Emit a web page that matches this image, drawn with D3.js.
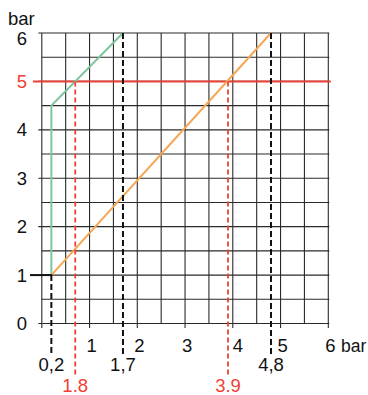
<!DOCTYPE html>
<html>
<head>
<meta charset="utf-8">
<script src="https://cdn.jsdelivr.net/npm/d3@7"></script>
<style>
  body { margin: 0; background: #fff; }
  text { font-family: "Liberation Sans", Arial, sans-serif; font-size: 18.5px; }
</style>
</head>
<body>
<script>
(function () {
  var xTicks = [1, 2, 3, 4, 5, 6];
  var yTicks = [0, 1, 2, 3, 4, 5, 6];
  var level = 5;

  var green = [
    { x: 0.2, y: 1 },
    { x: 0.2, y: 4.5 },
    { x: 1.7, y: 6 }
  ];
  var orange = [
    { x: 0.2, y: 1 },
    { x: 4.8, y: 6 }
  ];

  var blackMarks = [
    { x: 0.2, top: 1, label: "0,2" },
    { x: 1.7, top: 6, label: "1,7" },
    { x: 4.8, top: 6, label: "4,8" }
  ];
  var redMarks = [
    { x: 0.7, label: "1.8" },
    { x: 3.9, label: "3.9" }
  ];

  var W = 368, H = 395;
  var x = d3.scaleLinear().domain([0, 6]).range([41.8, 328.3]);
  var y = d3.scaleLinear().domain([0, 6]).range([323.5, 33]);

  var svg = d3.select("body")
    .append("svg")
    .attr("width", W)
    .attr("height", H);

  var grid = svg.append("g")
    .style("stroke", "#2a2a2a")
    .style("stroke-width", 1.1);

  var halves = x.ticks(12);

  // vertical grid, integer lines run a bit below the frame
  grid.selectAll("line.v")
    .data(halves)
  .enter()
    .append("line")
    .attr("x1", function (d) { return x(d); })
    .attr("x2", function (d) { return x(d); })
    .attr("y1", y(6))
    .attr("y2", function (d) { return d % 1 === 0 ? y(0) + 4.5 : y(0); });

  grid.selectAll("line.h")
    .data(y.ticks(12))
  .enter()
    .append("line")
    .attr("y1", function (d) { return y(d); })
    .attr("y2", function (d) { return y(d); })
    .attr("x1", function (d) { return d % 1 === 0 ? x(0) - 3.5 : x(0); })
    .attr("x2", x(6) + 1);

  // red level line
  svg.append("line")
    .attr("x1", 33)
    .attr("x2", x(6) + 2.5)
    .attr("y1", y(level))
    .attr("y2", y(level))
    .style("stroke", "#ee4135")
    .style("stroke-width", 2);

  var line = d3.line()
    .x(function (d) { return x(d.x); })
    .y(function (d) { return y(d.y); });

  svg.append("path")
    .datum(green)
    .attr("d", line)
    .style("fill", "none")
    .style("stroke", "#7cc59c")
    .style("stroke-width", 2);

  svg.append("path")
    .datum(orange)
    .attr("d", line)
    .style("fill", "none")
    .style("stroke", "#f6a655")
    .style("stroke-width", 2);

  // black marker at y = 1
  svg.append("line")
    .attr("x1", 30)
    .attr("x2", x(0.2) + 1)
    .attr("y1", y(1))
    .attr("y2", y(1))
    .style("stroke", "#111")
    .style("stroke-width", 2);

  svg.selectAll("line.bm")
    .data(blackMarks)
  .enter()
    .append("line")
    .attr("x1", function (d) { return x(d.x); })
    .attr("x2", function (d) { return x(d.x); })
    .attr("y1", function (d) { return y(d.top); })
    .attr("y2", 355)
    .style("stroke", "#111")
    .style("stroke-width", 2)
    .style("stroke-dasharray", "6,3");

  svg.selectAll("line.rm")
    .data(redMarks)
  .enter()
    .append("line")
    .attr("x1", function (d) { return x(d.x); })
    .attr("x2", function (d) { return x(d.x); })
    .attr("y1", y(level))
    .attr("y2", 376)
    .style("stroke", "#ee4135")
    .style("stroke-width", 1.8)
    .style("stroke-dasharray", "5,3");

  // labels
  svg.selectAll("text.yl")
    .data(yTicks)
  .enter()
    .append("text")
    .attr("x", 27)
    .attr("y", function (d) { return y(d) + (d === 6 ? 12 : 6.5); })
    .attr("text-anchor", "end")
    .style("fill", function (d) { return d === level ? "#ee4135" : "#111"; })
    .text(function (d) { return d; });

  svg.selectAll("text.xl")
    .data(xTicks)
  .enter()
    .append("text")
    .attr("x", function (d) { return x(d) + (d === 4 ? 5 : 2); })
    .attr("y", 352)
    .attr("text-anchor", "middle")
    .style("fill", "#111")
    .text(function (d) { return d; });

  svg.append("text")
    .attr("x", 8)
    .attr("y", 25)
    .style("fill", "#111")
    .text("bar");

  svg.append("text")
    .attr("x", 341)
    .attr("y", 352)
    .style("font-size", "17.5px")
    .style("fill", "#111")
    .text("bar");

  svg.selectAll("text.bl")
    .data(blackMarks)
  .enter()
    .append("text")
    .attr("x", function (d) { return x(d.x); })
    .attr("y", 371)
    .attr("text-anchor", "middle")
    .style("fill", "#111")
    .text(function (d) { return d.label; });

  svg.selectAll("text.rl")
    .data(redMarks)
  .enter()
    .append("text")
    .attr("x", function (d) { return x(d.x); })
    .attr("y", 392)
    .attr("text-anchor", "middle")
    .style("fill", "#ee4135")
    .text(function (d) { return d.label; });
})();
</script>
</body>
</html>
